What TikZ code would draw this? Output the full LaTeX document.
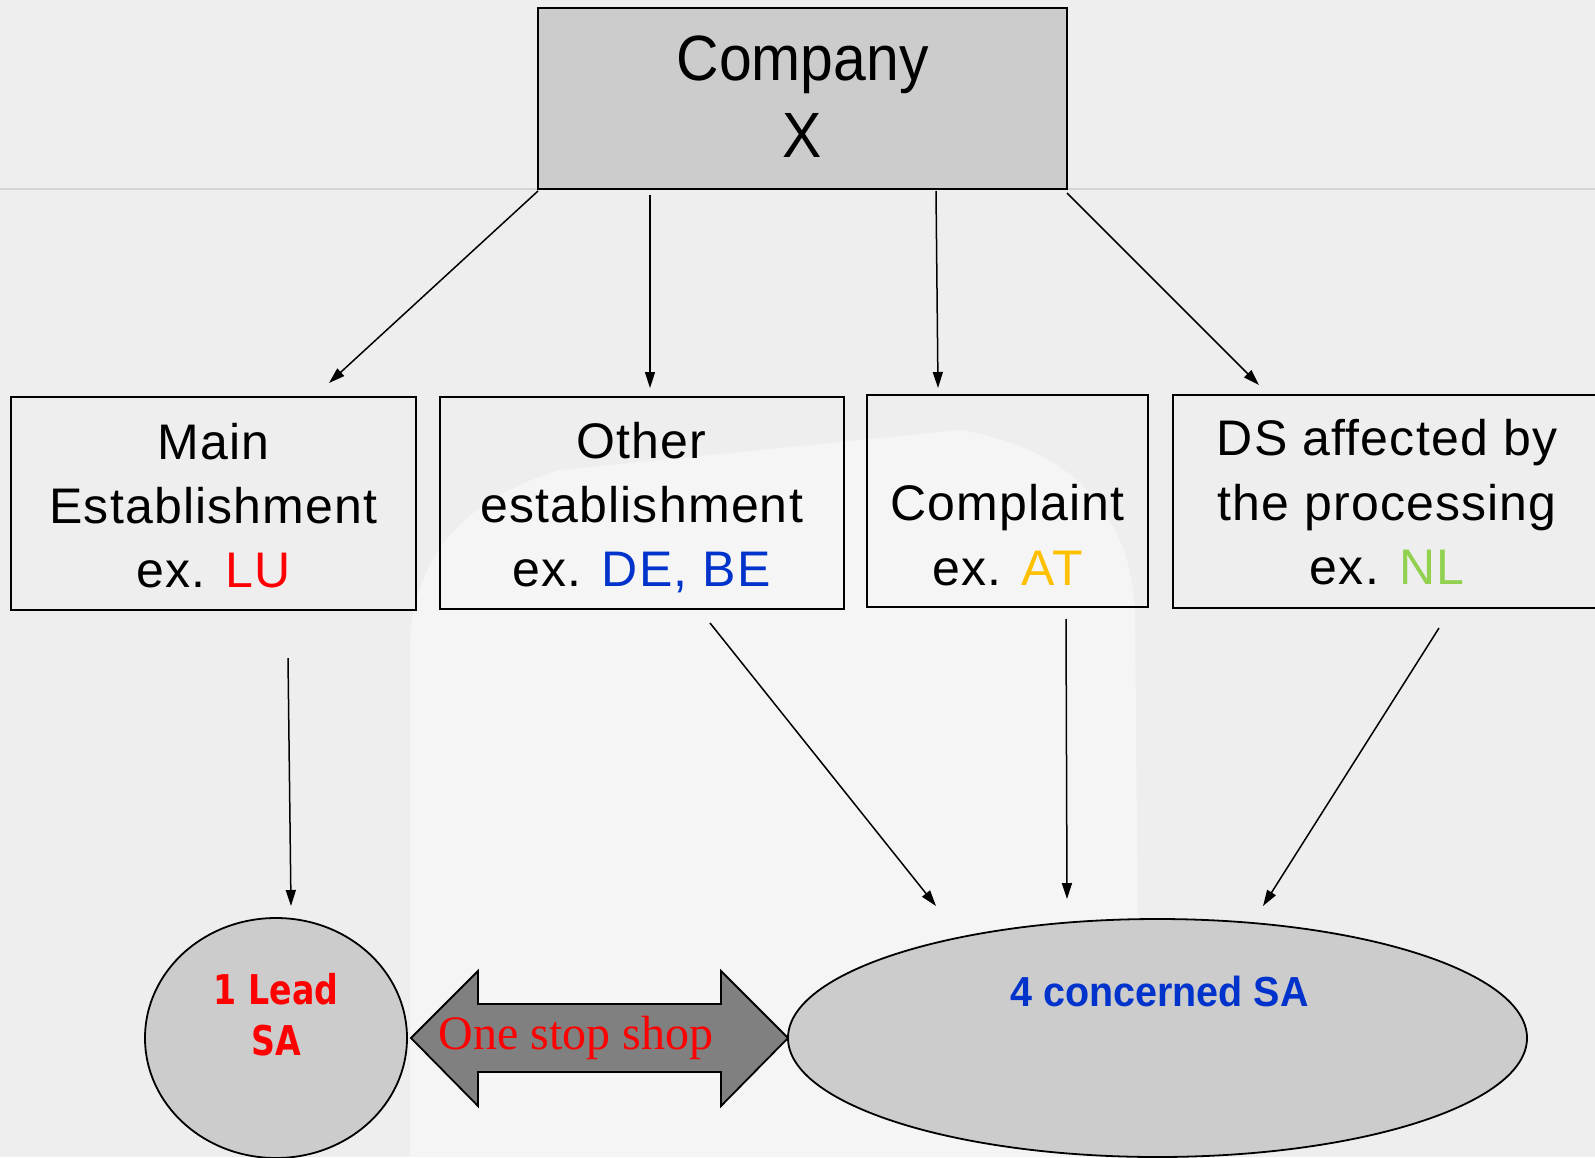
\documentclass[tikz,border=0pt]{standalone}
\usepackage{fontspec}
\setmainfont{Liberation Sans}
\newfontfamily\boxfont[LetterSpace=2.4]{Liberation Sans}
\newfontfamily\compfont[FakeStretch=0.92]{Liberation Sans}
\newfontfamily\leadfont[FakeStretch=0.81]{DejaVu Sans}
\newfontfamily\concfont[FakeStretch=0.94]{Liberation Sans}
\newfontfamily\osfont{Liberation Serif}
\usetikzlibrary{arrows.meta,shapes.geometric}
\definecolor{bg}{HTML}{EEEEEE}
\definecolor{wmark}{HTML}{F5F5F5}
\definecolor{sepgray}{HTML}{D4D4D4}
\definecolor{boxgray}{HTML}{CCCCCC}
\definecolor{arrgray}{HTML}{808080}
\definecolor{cred}{HTML}{FF0000}
\definecolor{cblue}{HTML}{0033CC}
\definecolor{camber}{HTML}{FFC000}
\definecolor{cgreen}{HTML}{92D050}
\begin{document}
\begin{tikzpicture}[x=1pt,y=-1pt,
  box/.style={draw=black, line width=2pt, inner sep=0pt, outer sep=0pt},
  txt/.style={anchor=base, inner sep=0pt, font=\boxfont\fontsize{50}{60}\selectfont},
  conn/.style={line width=1.5pt, -{Triangle[length=16pt,width=10pt]}},
  oval/.style={ellipse, draw=black, line width=1.8pt, fill=boxgray, inner sep=0pt, outer sep=0pt}]
\useasboundingbox (0,0) rectangle (1595,1157);
\fill[bg] (0,0) rectangle (1595,1157);
% faint watermark silhouette (lower body)
\fill[wmark] (410,1157) -- (410,640) .. controls (415,560) and (460,500) .. (560,470)
  -- (960,430) .. controls (1080,450) and (1130,520) .. (1135,610) -- (1140,1157) -- cycle;
\draw[sepgray, line width=2pt] (0,189) -- (1595,189);

% boxes
\node[box, fill=boxgray, minimum width=529pt, minimum height=181pt] (company) at (802.5,98.5) {};
\node[box, minimum width=405pt, minimum height=213pt] (main) at (213.5,503.5) {};
\node[box, minimum width=404pt, minimum height=212pt] (other) at (641.5,503) {};
\node[box, minimum width=281pt, minimum height=212pt] (compl) at (1007.5,501) {};
\node[box, minimum width=430pt, minimum height=213pt] (ds) at (1388,501.5) {};

% box texts
\node[txt, font=\compfont\fontsize{64}{70}\selectfont] (t1) at (802.5,80) {Company};
\node[txt, font=\compfont\fontsize{64}{70}\selectfont] (t2) at (802.5,157) {X};

\node[txt] (m1) at (213.5,459) {Main};
\node[txt] (m2) at (213.5,523) {Establishment};
\node[txt] (m3) at (213.5,587) {ex. \textcolor{cred}{LU}};

\node[txt] (o1) at (641.5,458) {Other};
\node[txt] (o2) at (641.5,522) {establishment};
\node[txt] (o3) at (641.5,586) {ex. \textcolor{cblue}{DE, BE}};

\node[txt] (c1) at (1007.5,520) {Complaint};
\node[txt] (c2) at (1007.5,585) {ex. \textcolor{camber}{AT}};

\node[txt] (d1) at (1387,455) {DS affected by};
\node[txt] (d2) at (1387,520) {the processing};
\node[txt] (d3) at (1387,584) {ex. \textcolor{cgreen}{NL}};

% ellipses
\node[oval, minimum width=262pt, minimum height=240pt] (lead) at (276,1038) {};
\node[oval, minimum width=739pt, minimum height=238pt] (conc) at (1157.5,1038) {};
\node[anchor=base, inner sep=0pt, text=cred, font=\leadfont\bfseries\fontsize{41}{50}\selectfont] (l1) at (276,1004) {1 Lead};
\node[anchor=base, inner sep=0pt, text=cred, font=\leadfont\bfseries\fontsize{41}{50}\selectfont] (l2) at (276,1055) {SA};
\node[anchor=base, inner sep=0pt, text=cblue, font=\concfont\bfseries\fontsize{42}{50}\selectfont] (k1) at (1159.5,1006) {4 concerned SA};

% double arrow (one stop shop)
\draw[fill=arrgray, draw=black, line width=1.8pt, line join=miter]
  (411,1038) -- (478,971) -- (478,1004) -- (721,1004) -- (721,971) -- (788,1038)
  -- (721,1106) -- (721,1072) -- (478,1072) -- (478,1106) -- cycle;
\node[anchor=base, inner sep=0pt, text=cred, font=\osfont\fontsize{48}{55}\selectfont] (oss) at (576,1049) {One stop shop};

% connector end points
\coordinate (s1) at (538,191);  \coordinate (e1) at (329,383);
\coordinate (s2) at (650,195);  \coordinate (e2) at (650,388);
\coordinate (s3) at (936,191);  \coordinate (e3) at (938,388);
\coordinate (s4) at (1067,193); \coordinate (e4) at (1259,385);
\coordinate (s5) at (288,658);  \coordinate (e5) at (291,906);
\coordinate (s6) at (710,623);  \coordinate (e6) at (936,906);
\coordinate (s7) at (1066,619); \coordinate (e7) at (1067,899);
\coordinate (s8) at (1439,628); \coordinate (e8) at (1263,906);

\draw[conn] (s1) -- (e1);
\draw[conn] (s2) -- (e2);
\draw[conn] (s3) -- (e3);
\draw[conn] (s4) -- (e4);
\draw[conn] (s5) -- (e5);
\draw[conn] (s6) -- (e6);
\draw[conn] (s7) -- (e7);
\draw[conn] (s8) -- (e8);
\end{tikzpicture}
\end{document}
